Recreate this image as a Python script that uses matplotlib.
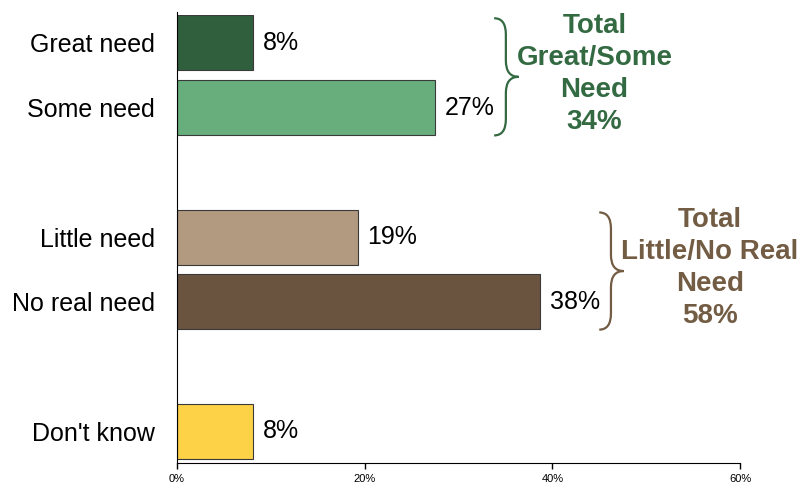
import matplotlib
matplotlib.use("Agg")
import matplotlib.pyplot as plt
from matplotlib.path import Path
from matplotlib.patches import PathPatch

plt.rcParams["font.family"] = ["Liberation Sans", "DejaVu Sans"]

categories = ["Great need", "Some need", "Little need", "No real need", "Don't know"]
values = [8.1, 27.5, 19.3, 38.7, 8.1]
value_labels = ["8%", "27%", "19%", "38%", "8%"]
positions = [0, 1, 3, 4, 6]
colors = ["#2f5f3d", "#67ae7c", "#b19a80", "#6a5440", "#fdd246"]
xticks = [0, 20, 40, 60]

group_labels = ["Total\nGreat/Some\nNeed\n34%", "Total\nLittle/No Real\nNeed\n58%"]
group_members = [[0, 1], [2, 3]]
group_colors = ["#336a42", "#735c44"]
group_text_x = [44.5, 56.8]

fig = plt.figure(figsize=(8.05, 4.87), dpi=100)
ax = fig.add_axes([177 / 805, 1 - 463 / 487, (740 - 177) / 805, (463 - 15) / 487])

ax.barh(positions, values, height=0.85, color=colors, edgecolor="#3a3a3a", linewidth=0.8)
for p, v, lab in zip(positions, values, value_labels):
    ax.text(v + 1.0, p, lab, va="center", ha="left", fontsize=18, color="black")

ax.set_yticks(positions)
ax.set_yticklabels(categories, fontsize=18)
ax.tick_params(axis="y", length=0, pad=16)
ax.set_xticks(xticks)
ax.set_xticklabels([f"{t}%" for t in xticks], fontsize=8)
ax.tick_params(axis="x", length=4, width=1, direction="out", pad=4)
ax.set_xlim(0, 60)
ax.set_ylim(6.49, -0.43)
for s in ["top", "right"]:
    ax.spines[s].set_visible(False)
ax.spines["left"].set_bounds(6.49, -0.48)


def brace(ax, x0, y0, y1, w, color):
    ym = (y0 + y1) / 2
    xm = x0 + w * 0.48
    r = 0.25
    verts = [(x0, y0), (xm, y0), (xm, y0 + r),
             (xm, ym - r), (xm, ym), (x0 + w, ym),
             (xm, ym), (xm, ym + r),
             (xm, y1 - r), (xm, y1), (x0, y1)]
    codes = [Path.MOVETO, Path.CURVE3, Path.CURVE3,
             Path.LINETO, Path.CURVE3, Path.CURVE3,
             Path.CURVE3, Path.CURVE3,
             Path.LINETO, Path.CURVE3, Path.CURVE3]
    ax.add_patch(PathPatch(Path(verts, codes), fc="none", ec=color, lw=1.6,
                           clip_on=False))


for members, lab, col, tx in zip(group_members, group_labels, group_colors, group_text_x):
    ps = [positions[i] for i in members]
    top = min(ps) - 0.43
    bot = max(ps) + 0.43
    vmax = max(values[i] for i in members)
    brace(ax, vmax + 6.3, top + 0.05, bot, 2.6, col)
    ax.text(tx, (top + bot) / 2 - 0.02, lab, ha="center", va="center", fontsize=20,
            fontweight="bold", color=col, linespacing=1.3, clip_on=False)

fig.savefig("out.png", dpi=100)
